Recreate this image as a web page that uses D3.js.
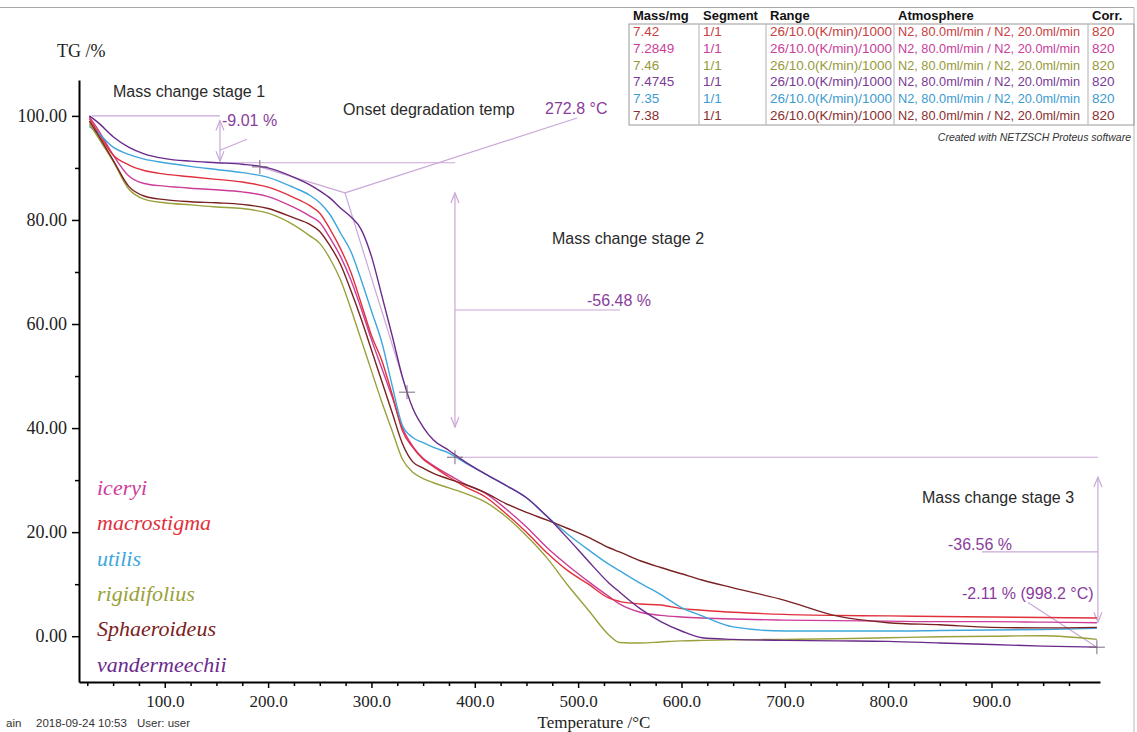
<!DOCTYPE html>
<html>
<head>
<meta charset="utf-8">
<script src="https://cdn.jsdelivr.net/npm/d3@7"></script>
<style>
body { margin: 0; background: #fff; }
svg { display: block; }
</style>
</head>
<body>
<div id="chart"></div>
<script>
// temperature (°C) sampled along the runs
const temps = [27, 35, 50, 65, 80, 100, 125, 150, 175, 200, 225, 240, 250, 260, 270, 280, 290, 300, 310, 320,
	330, 340, 350, 360, 375, 390, 410, 430, 450, 470, 490, 510, 530, 540, 560, 580, 600, 620, 650, 700,
	750, 800, 850, 900, 950, 1002]

// TG % for each species
const iceryi = [99.8, 97.5, 92.5, 88.5, 87, 86.5, 86.1, 85.8, 85.4, 84.5, 82.4, 80.8, 79.5, 76.5, 73, 68.5, 63, 57, 51.5, 46,
	40, 36.5, 34.2, 32.8, 31, 29.3, 27.5, 24.5, 21, 17, 13.6, 10.5, 7.6, 6.2, 4.6, 4.0, 3.7, 3.5, 3.3, 3.1,
	3.0, 2.9, 2.8, 2.8, 2.7, 2.6]
const macrostigma = [99.5, 97, 92.5, 90.6, 89.5, 88.8, 88.3, 87.8, 87.3, 86.3, 84.3, 82.8, 81.3, 78.2, 74.5, 70, 64, 57.8, 53, 46.5,
	39.5, 36.3, 34, 32.6, 30.6, 28.8, 26.8, 23.6, 20, 16, 12.6, 10, 7.3, 6.7, 6.2, 6.0, 5.3, 5.0, 4.6, 4.2,
	4.0, 3.9, 3.8, 3.7, 3.6, 3.5]
const utilis = [98, 96.8, 94, 92.6, 91.7, 91, 90.3, 89.7, 89.1, 88.2, 86.2, 84.8, 83.3, 81, 77.5, 74, 68.5, 62.5, 56.5, 48.2,
	40.5, 38.2, 37.2, 36.3, 35.2, 33.4, 31.2, 29, 26.6, 23, 19.6, 16.6, 13.8, 12.6, 10.2, 8, 5.5, 3.9, 1.8, 1.0,
	1.0, 1.0, 1.1, 1.2, 1.3, 1.5]
const rigidifolius = [98.5, 96, 91.3, 86, 84, 83.3, 82.9, 82.5, 82.2, 81.3, 79, 77, 75.5, 72.5, 68.5, 63, 57, 51, 45, 39.5,
	34, 31.5, 30.3, 29.5, 28.5, 27.5, 25.8, 23, 19.3, 15, 9.8, 5, 0.2, -1.2, -1.3, -1.1, -0.9, -0.8, -0.7, -0.6,
	-0.5, -0.3, -0.1, 0, 0.1, -0.6]
const sphaeroideus = [99, 96.5, 91.5, 86.5, 84.6, 83.9, 83.5, 83.3, 83, 82.2, 80.4, 79.2, 77.8, 75, 71.5, 66.5, 61, 55, 49, 43,
	37, 33.5, 32.3, 31.3, 30.2, 29.2, 27.6, 25.5, 23.8, 22.3, 20.7, 19, 17, 16.2, 14.5, 13.2, 12, 10.8, 9.3, 6.9,
	3.9, 2.6, 2.2, 1.7, 1.6, 1.7]
const vandermeechii = [100, 98.8, 96, 94, 92.7, 91.8, 91.3, 91, 90.7, 90, 88.2, 86.8, 85.6, 84.2, 82.3, 80.6, 78.2, 73, 65.5, 57.8,
	49.8, 43.8, 40.2, 37.7, 35.7, 33.6, 31.2, 29, 26.6, 23, 18.8, 14.4, 10.2, 8.5, 5.3, 2.8, 1.0, -0.3, -0.6, -0.8,
	-0.9, -1.0, -1.3, -1.6, -1.9, -2.1]

const speciesNames = ['iceryi', 'macrostigma', 'utilis', 'rigidifolius', 'Sphaeroideus', 'vandermeechii']
const speciesValues = [iceryi, macrostigma, utilis, rigidifolius, sphaeroideus, vandermeechii]
const speciesColors = ['#cc3d99', '#e0303c', '#3ea6dc', '#9aa03a', '#7a2222', '#6a2a8c']

// measurement table (NETZSCH header)
const tableHeader = ['Mass/mg', 'Segment', 'Range', 'Atmosphere', 'Corr.']
const tableMass = ['7.42', '7.2849', '7.46', '7.4745', '7.35', '7.38']
const tableSegment = '1/1', tableRange = '26/10.0(K/min)/1000', tableAtmos = 'N2, 80.0ml/min / N2, 20.0ml/min', tableCorr = '820'
const tableColors = ['#c8403f', '#c9409b', '#97993a', '#7a3a96', '#3d9bd0', '#8a2f2f']

const xTicks = [100, 200, 300, 400, 500, 600, 700, 800, 900]
const yTicks = [0, 20, 40, 60, 80, 100]

// annotation geometry, in data units (°C, %)
const annoLines = [
	[[29.6, 100], [153.4, 100]],
	[[153.4, 91], [381, 91]],
	[[153.4, 93.4], [179.6, 95.5]],
	[[192, 90.2], [274.4, 85.2]],
	[[274.4, 85.2], [334.4, 46.9]],
	[[274.4, 85.2], [499, 99.6]],
	[[380.8, 62.7], [540.5, 62.7]],
	[[380.8, 34.4], [1003, 34.4]],
	[[890.8, 16.2], [1003, 16.2]],
	[[935.3, 6.5], [1002, -2.11]]
]
const annoArrows = [[153.4, 99.1, 91.3], [380.8, 85.2, 40.2], [1003, 30.6, 2.7]]
const annoCrosses = [[192, 90.2], [334.4, 46.9], [380.8, 34.4], [1002, -2.11]]
const annoTexts = [
	{ t: 49.9, v: 103.7, text: 'Mass change stage 1', purple: false },
	{ t: 155.4, v: 98.1, text: '-9.01 %', purple: true },
	{ t: 272.5, v: 100.1, text: 'Onset degradation temp', purple: false },
	{ t: 468, v: 100.4, text: '272.8 °C', purple: true },
	{ t: 474.7, v: 75.4, text: 'Mass change stage 2', purple: false },
	{ t: 508.6, v: 63.5, text: '-56.48 %', purple: true },
	{ t: 832.7, v: 25.6, text: 'Mass change stage 3', purple: false },
	{ t: 857.9, v: 16.6, text: '-36.56 %', purple: true },
	{ t: 871.5, v: 7.15, text: '-2.11 % (998.2 °C)', purple: true }
]

const width = 1137, height = 732
const serif = '"Liberation Serif", "Times New Roman", serif'
const sans = '"Liberation Sans", Arial, sans-serif'
const annoColor = '#c9a8d8', annoText = '#8a3c9c'

let svg = d3.select('#chart')
.append('svg')
.attr('width', width)
.attr('height', height)

let xScale = d3.scaleLinear()
.domain([17, 1005])
.range([79, 1100])

let yScale = d3.scaleLinear()
.domain([-8.8, 106.9])
.range([682, 80])

// page frame
svg.append('line').attr('x1', 0).attr('x2', 1134).attr('y1', 7.5).attr('y2', 7.5)
.style('stroke', '#a8a8a8').style('stroke-width', 1)
svg.append('line').attr('x1', 1134).attr('x2', 1134).attr('y1', 7.5).attr('y2', height)
.style('stroke', '#b8b8b8').style('stroke-width', 1)

// axes
let yMinor = svg.append('g')
.attr('transform', 'translate(79,0)')
.call(d3.axisLeft(yScale).tickValues([10, 30, 50, 70, 90]).tickSize(4).tickFormat(''))
yMinor.select('.domain').remove()

let yAxis = svg.append('g')
.attr('transform', 'translate(79,0)')
.call(d3.axisLeft(yScale).tickValues(yTicks).tickSize(7).tickSizeOuter(0).tickPadding(5).tickFormat(d3.format('.2f')))
yAxis.select('.domain').style('stroke-width', 2)
yAxis.selectAll('text').style('font-family', serif).style('font-size', '18px').style('fill', '#222')

let xMinor = svg.append('g')
.attr('transform', 'translate(0,682)')
.call(d3.axisBottom(xScale).tickValues(d3.range(25, 1001, 25).filter(d => d % 100 != 0)).tickSize(4).tickFormat(''))
xMinor.select('.domain').remove()

let xAxis = svg.append('g')
.attr('transform', 'translate(0,682)')
.call(d3.axisBottom(xScale).tickValues(xTicks).tickSize(6).tickSizeOuter(0).tickPadding(7).tickFormat(d3.format('.1f')))
xAxis.select('.domain').style('stroke-width', 2)
xAxis.selectAll('text').style('font-family', serif).style('font-size', '17px').style('fill', '#222')

svg.selectAll('.tick line').style('stroke-width', 1.5)

svg.append('text').attr('x', 57).attr('y', 57).text('TG /%')
.style('font-family', serif).style('font-size', '18px').style('fill', '#222')
svg.append('text').attr('x', 594).attr('y', 728).attr('text-anchor', 'middle').text('Temperature /°C')
.style('font-family', serif).style('font-size', '17px').style('fill', '#222')

// annotation lines
svg.selectAll('.anno')
.data(annoLines)
.join('line')
.attr('class', 'anno')
.attr('x1', d => xScale(d[0][0])).attr('y1', d => yScale(d[0][1]))
.attr('x2', d => xScale(d[1][0])).attr('y2', d => yScale(d[1][1]))
.style('stroke', annoColor).style('stroke-width', 1.2)

// double arrows
annoArrows.forEach(([t, a, b]) => {
	let x = xScale(t), y1 = yScale(a), y2 = yScale(b)
	let g = svg.append('g').style('stroke', annoColor).style('stroke-width', 1.2).style('fill', 'none')
	g.append('line').attr('x1', x).attr('x2', x).attr('y1', y1).attr('y2', y2)
	g.append('path').attr('d', `M${x - 4},${y1 + 10}L${x},${y1}L${x + 4},${y1 + 10}`)
	g.append('path').attr('d', `M${x - 4},${y2 - 10}L${x},${y2}L${x + 4},${y2 - 10}`)
})

// the curves
let lineFunc = d3.line()
.x(d => xScale(d[0]))
.y(d => yScale(d[1]))
.curve(d3.curveMonotoneX)

svg.selectAll('.polylines')
.data(speciesValues.map(vals => vals.map((v, i) => [temps[i], v])))
.join('path')
.attr('class', 'polylines')
.attr('d', lineFunc)
.style('fill', 'none')
.style('stroke', (d, i) => speciesColors[i])
.style('stroke-width', 1.4)

// crosses
annoCrosses.forEach(([t, v]) => {
	let x = xScale(t), y = yScale(v)
	svg.append('path').attr('d', `M${x - 8},${y}H${x + 8}M${x},${y - 7}V${y + 7}`)
	.style('stroke', '#7a6a80').style('stroke-width', 1)
})

svg.selectAll('.annotext')
.data(annoTexts)
.join('text')
.attr('class', 'annotext')
.attr('x', d => xScale(d.t))
.attr('y', d => yScale(d.v))
.text(d => d.text)
.style('font-family', sans)
.style('font-size', '16px')
.style('fill', d => d.purple ? annoText : '#2a2a2a')

// legend of species names
svg.selectAll('.legend')
.data(speciesNames)
.join('text')
.attr('class', 'legend')
.attr('x', 97)
.attr('y', (d, i) => 495 + i * 35.3)
.text(d => d)
.style('font-family', serif)
.style('font-style', 'italic')
.style('font-size', '22px')
.style('fill', (d, i) => speciesColors[i])

// table
const colX = [633, 703, 770, 898, 1092]
const colW = [null, null, 122, 182, null]
const colLines = [629, 699, 766, 894, 1088]
let table = svg.append('g')
table.append('rect').attr('x', 629).attr('y', 24).attr('width', 1134 - 629).attr('height', 101)
.style('fill', 'none').style('stroke', '#9a9a9a')
table.selectAll('.col').data(colLines.slice(1)).join('line')
.attr('x1', d => d).attr('x2', d => d).attr('y1', 24).attr('y2', 125)
.style('stroke', '#b0b0b0')
table.selectAll('.head').data(tableHeader).join('text')
.attr('x', (d, i) => colX[i]).attr('y', 20)
.text(d => d)
.style('font-family', sans).style('font-size', '13px').style('font-weight', 'bold').style('fill', '#111')
tableMass.forEach((m, r) => {
	let cells = [m, tableSegment, tableRange, tableAtmos, tableCorr]
	table.selectAll('.row' + r).data(cells).join('text')
	.attr('x', (d, i) => colX[i]).attr('y', 36 + r * 16.8)
	.attr('textLength', (d, i) => colW[i])
	.attr('lengthAdjust', 'spacingAndGlyphs')
	.text(d => d)
	.style('font-family', sans).style('font-size', '13.5px').style('fill', tableColors[r])
})
svg.append('text').attr('x', 1131).attr('y', 141).attr('text-anchor', 'end')
.text('Created with NETZSCH Proteus software')
.style('font-family', sans).style('font-size', '10.5px').style('font-style', 'italic').style('fill', '#333')

// footer
let foot = svg.append('text').attr('y', 727).style('font-family', sans).style('font-size', '11.5px').style('fill', '#333')
foot.append('tspan').attr('x', 6).text('ain')
foot.append('tspan').attr('x', 36).text('2018-09-24 10:53')
foot.append('tspan').attr('x', 137).text('User: user')
</script>
</body>
</html>
